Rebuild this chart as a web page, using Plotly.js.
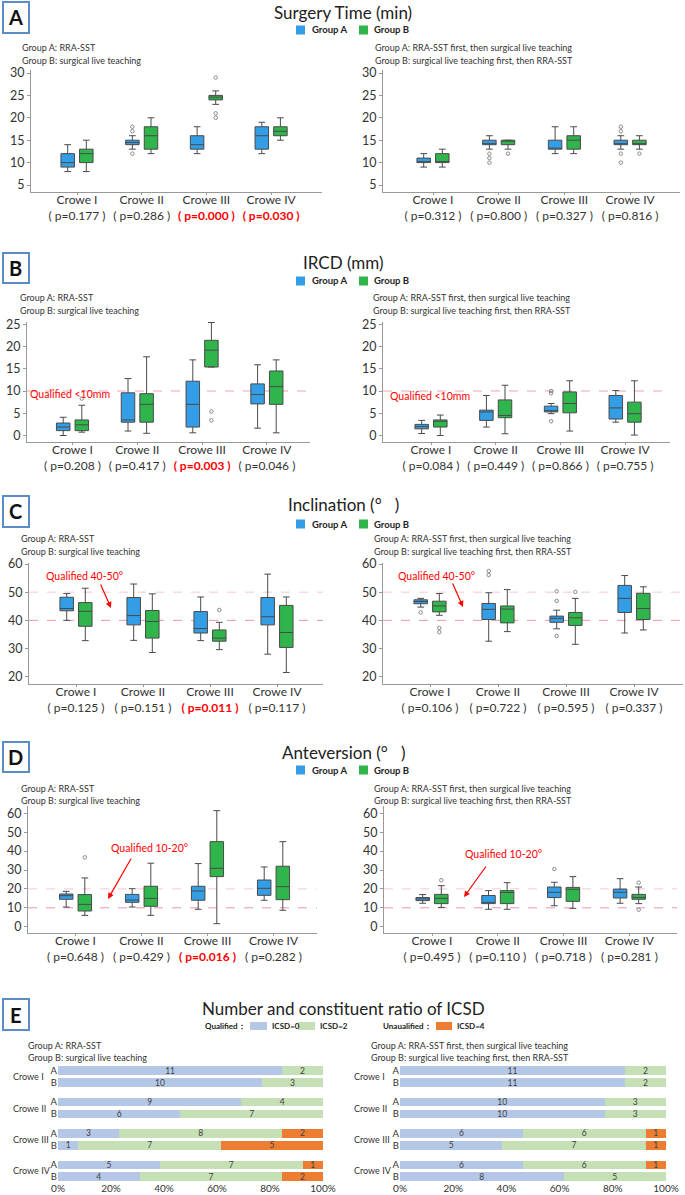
<!DOCTYPE html>
<html><head><meta charset="utf-8">
<script src="https://cdn.plot.ly/plotly-3.0.1.min.js"></script>
<style>html,body{margin:0;padding:0;background:#fff}#chart{width:685px;height:1195px}</style>
</head><body><div id="chart"></div>
<script>
const W=685,H=1195;
const FONT='Lato, "Open Sans", "DejaVu Sans", sans-serif';
const categories=['Crowe I','Crowe II','Crowe III','Crowe IV'];
const groupNames=['Group A','Group B'];
const colorA='#339de6', colorB='#2fb54b';

// each row: [lowerWhisker, q1, median, q3, upperWhisker] per Crowe type; outliers: [categoryIndex, value]
// Surgery Time (min)
const timeL_A=[[8,9,10,12,14],[13,14,14.5,15,16],[12,13,14,16,18],[12,13,16,18,19]];
const timeL_A_out=[[1,17],[1,18],[1,12]];
const timeL_B=[[8,10,12,13,15],[12,13,16,18,20],[23,24,24.6,25,26],[15,16,17,18,20]];
const timeL_B_out=[[2,29],[2,21],[2,20]];
const timeL_p=['0.177','0.286','0.000','0.030'];
const timeL_sig=[0,0,1,1];
const timeR_A=[[9,10,10,11,12],[13,14,14,15,16],[12,13,13,15,18],[13,14,14,15,16]];
const timeR_A_out=[[1,12],[1,11],[1,10],[3,18],[3,17],[3,12],[3,10]];
const timeR_B=[[9,10,10,12,13],[13,14,15,15,15],[12,13,15,16,18],[13,14,14,15,16]];
const timeR_B_out=[[1,12],[3,12]];
const timeR_p=['0.312','0.800','0.327','0.816'];
const timeR_sig=[0,0,0,0];
// IRCD (mm)
const ircdL_A=[[0,1.1,1.9,2.8,4.1],[1.0,3.0,3.5,9.6,12.8],[0.6,1.9,7.0,12.2,17],[1.65,7.1,9.2,11.6,15.9]];
const ircdL_A_out=[];
const ircdL_B=[[0.75,1.1,2.4,3.5,6.8],[0.5,3.0,7.0,9.4,17.7],[15.4,15.4,19.2,21.4,25.4],[0.6,7,11,14.5,17]];
const ircdL_B_out=[[0,8.3],[2,5.4],[2,3.4]];
const ircdL_p=['0.208','0.417','0.003','0.046'];
const ircdL_sig=[0,0,1,0];
const ircdR_A=[[0.45,1.5,2.0,2.5,3.4],[1.9,3.4,5.3,5.7,9.0],[4.9,5.3,5.6,6.6,7.2],[3.0,3.7,6.2,9.0,10.1]];
const ircdR_A_out=[[2,10],[2,9.5],[2,3.2]];
const ircdR_B=[[0,1.9,3.2,3.5,4.6],[0.4,4.0,4.5,8.0,11.3],[1.0,5.1,7.2,9.8,12.3],[0.1,3.0,4.9,7.5,12.3]];
const ircdR_B_out=[];
const ircdR_p=['0.084','0.449','0.866','0.755'];
const ircdR_sig=[0,0,0,0];
// Inclination
const inclL_A=[[40,43.4,44.2,48.2,49.5],[32.9,38.4,41.7,48.1,52.9],[32.8,35.5,37.1,43.1,48.3],[28,38.4,41.3,48.1,56.4]];
const inclL_A_out=[];
const inclL_B=[[32.8,37.9,43.2,46.3,51.4],[28.6,33.7,39.6,43.5,49.4],[29.6,32.6,33.7,36.6,39.3],[21.5,30.4,35.7,45.3,48.3]];
const inclL_B_out=[[2,43.7]];
const inclL_p=['0.125','0.151','0.011','0.117'];
const inclL_sig=[0,0,1,0];
const inclR_A=[[44.7,45.9,46.7,47.3,47.8],[32.6,40.3,43.9,46.0,49.8],[37.0,39.3,40.7,41.5,43.6],[35.5,42.8,47.8,52.4,55.9]];
const inclR_A_out=[[0,42.8],[1,57.5],[1,56.1],[2,50.3],[2,46.9],[2,34.5]];
const inclR_B=[[41.8,43.0,45.1,46.8,49.5],[36.0,39.1,44.0,45.1,50.9],[31.5,38.2,40.9,42.8,47.8],[36.6,40.3,44.2,49.6,51.9]];
const inclR_B_out=[[0,37.3],[0,35.8],[2,50.1]];
const inclR_p=['0.106','0.722','0.595','0.337'];
const inclR_sig=[0,0,0,0];
// Anteversion
const antL_A=[[10.4,14.5,16.4,17.3,18.7],[10.4,12.9,14.1,17.1,20.1],[9.2,14.0,18.9,21.4,33.4],[14.0,16.6,20.3,24.7,31.6]];
const antL_A_out=[];
const antL_B=[[6.0,8.3,11.8,17.0,25.8],[6.0,10.8,15.0,21.4,33.6],[1.6,26.5,30.9,45.0,61.4],[8.7,14.3,21.2,32.0,45.0]];
const antL_B_out=[[0,36.7]];
const antL_p=['0.648','0.429','0.016','0.282'];
const antL_sig=[0,0,1,0];
const antR_A=[[12.4,13.8,14.7,15.4,17.0],[9.2,12.2,12.9,16.5,19.1],[11.1,15.4,18.2,21.0,23.5],[12.4,15.2,18.2,19.9,25.4]];
const antR_A_out=[[2,30.5]];
const antR_B=[[10.2,12.2,15.0,17.1,21.7],[9.2,12.2,18.1,19.1,23.3],[9.7,13.4,19.8,20.8,26.5],[12.2,14.5,15.5,17.1,21.0]];
const antR_B_out=[[0,24.6],[3,23.3],[3,9.0]];
const antR_p=['0.495','0.110','0.718','0.281'];
const antR_sig=[0,0,0,0];
// ICSD counts (rows: Crowe I A, Crowe I B, Crowe II A, ...)
const icsdRowLabels=['A','B','A','B','A','B','A','B'];
const icsdL_0=[11,10,9,6,3,1,5,4];
const icsdL_2=[2,3,4,7,8,7,7,7];
const icsdL_4=[0,0,0,0,2,5,1,2];
const icsdR_0=[11,11,10,10,6,5,6,8];
const icsdR_2=[2,2,3,3,6,7,6,5];
const icsdR_4=[0,0,0,0,1,1,1,0];
const icsdNames=['ICSD=0','ICSD=2','ICSD=4'];
const icsdColors=['#b4c7e7','#c5e0b4','#ed7d31'];
const pctTicks=[0,20,40,60,80,100];

const subLeft=['Group A: RRA-SST','Group B: surgical live teaching'];
const subRight=['Group A: RRA-SST first, then surgical live teaching','Group B: surgical live teaching first, then RRA-SST'];

const traces=[];
const layout={width:W,height:H,margin:{l:0,r:0,t:0,b:0},paper_bgcolor:'#fff',plot_bgcolor:'rgba(0,0,0,0)',
  font:{family:FONT,size:12,color:'#333'},showlegend:false,barmode:'stack',barnorm:'percent',
  uniformtext:{mode:'show',minsize:8},shapes:[],annotations:[]};
const px=x=>x/W, py=y=>1-y/H;
function ax(k){return k===1?'':String(k);}
function ann(text,x,y,o){layout.annotations.push(Object.assign({xref:'paper',yref:'paper',x:px(x),y:py(y),text:text,showarrow:false,xanchor:'left',yanchor:'middle',font:{family:FONT,size:9,color:'#333'}},o||{}));}
function rect(x0,y0,x1,y1,fill,line){layout.shapes.push({type:'rect',xref:'paper',yref:'paper',x0:px(x0),x1:px(x1),y0:py(y1),y1:py(y0),fillcolor:fill,line:line||{width:0},layer:'above'});}

function boxPanel(g){
  const k=g.k, xs=ax(k);
  const off=9.3/g.s, bw=13.5/g.s;
  const u=(g.cal[3]-g.cal[1])/(g.cal[0]-g.cal[2]);
  const yr=[g.cal[2]-(g.bot-g.cal[3])/u, g.cal[0]+(g.cal[1]-g.top)/u];
  const ticktext=categories.map((c,i)=>c+'<br>'+(g.sig[i]?'<b><span style="color:#ff0000">( p='+g.p[i]+' )</span></b>':'( p='+g.p[i]+' )'));
  layout['xaxis'+xs]={domain:[px(g.ax0),px(g.ax1)],range:[(g.ax0-g.c0)/g.s,(g.ax1-g.c0)/g.s],anchor:'y'+xs,
    tickvals:[0,1,2,3],ticktext:ticktext,showline:true,linecolor:'#999',ticks:'outside',ticklen:2,tickcolor:'#999',
    ticklabelstandoff:-5,showgrid:false,zeroline:false,tickfont:{size:12,color:'#333'},fixedrange:true};
  layout['yaxis'+xs]={domain:[py(g.bot),py(g.top)],range:yr,anchor:'x'+xs,dtick:g.dtick,showline:true,linecolor:'#999',
    ticks:'outside',ticklen:3,tickcolor:'#999',showgrid:false,zeroline:false,tickfont:{size:12.5,color:'#333'},fixedrange:true};
  [[g.A,g.Aout,-off,colorA],[g.B,g.Bout,off,colorB]].forEach(([d,o,dx,col],gi)=>{
    traces.push({type:'box',name:groupNames[gi],xaxis:'x'+xs,yaxis:'y'+xs,x:d.map((_,i)=>i+dx),
      lowerfence:d.map(r=>r[0]),q1:d.map(r=>r[1]),median:d.map(r=>r[2]),q3:d.map(r=>r[3]),upperfence:d.map(r=>r[4]),
      width:bw,fillcolor:col,line:{color:'#4a4a4a',width:1},whiskerwidth:0.5,boxpoints:false,hoverinfo:'skip'});
    if(o.length) traces.push({type:'scatter',mode:'markers',xaxis:'x'+xs,yaxis:'y'+xs,x:o.map(p=>p[0]+dx),y:o.map(p=>p[1]),
      marker:{symbol:'circle-open',size:3.5,color:'#8a8a8a',line:{width:1}},hoverinfo:'skip'});
  });
  (g.ref||[]).forEach(r=>layout.shapes.push({type:'line',xref:'x'+xs+' domain',x0:0,x1:1,yref:'y'+xs,y0:r.y,y1:r.y,
    line:{color:r.c,width:1,dash:'dash'},layer:'below'}));
}

const refB=[{y:10,c:'#f0a3b1'}];
const refC=[{y:50,c:'#f5c8d0'},{y:40,c:'#ec94a6'}];
const refD=[{y:20,c:'#f5c8d0'},{y:10,c:'#ec94a6'}];
boxPanel({k:1,A:timeL_A,Aout:timeL_A_out,B:timeL_B,Bout:timeL_B_out,p:timeL_p,sig:timeL_sig,ax0:31,c0:77,s:64.7,ax1:322,top:70,bot:192,cal:[30,73,5,185],dtick:5});
boxPanel({k:2,A:timeR_A,Aout:timeR_A_out,B:timeR_B,Bout:timeR_B_out,p:timeR_p,sig:timeR_sig,ax0:383,c0:433,s:65.7,ax1:680,top:70,bot:192,cal:[30,73,5,185],dtick:5});
boxPanel({k:3,A:ircdL_A,Aout:ircdL_A_out,B:ircdL_B,Bout:ircdL_B_out,p:ircdL_p,sig:ircdL_sig,ax0:27,c0:72.5,s:64.8,ax1:310,top:321.5,bot:441.7,cal:[25,324.3,0,435.5],dtick:5,ref:refB});
boxPanel({k:4,A:ircdR_A,Aout:ircdR_A_out,B:ircdR_B,Bout:ircdR_B_out,p:ircdR_p,sig:ircdR_sig,ax0:383,c0:431,s:64.7,ax1:670,top:321.5,bot:441.7,cal:[25,324.3,0,435.5],dtick:5,ref:refB});
boxPanel({k:5,A:inclL_A,Aout:inclL_A_out,B:inclL_B,Bout:inclL_B_out,p:inclL_p,sig:inclL_sig,ax0:29,c0:76,s:67,ax1:323,top:563,bot:684,cal:[60,564,20,676.7],dtick:10,ref:refC});
boxPanel({k:6,A:inclR_A,Aout:inclR_A_out,B:inclR_B,Bout:inclR_B_out,p:inclR_p,sig:inclR_sig,ax0:383,c0:430,s:68,ax1:683,top:563,bot:684,cal:[60,564,20,676.7],dtick:10,ref:refC});
boxPanel({k:7,A:antL_A,Aout:antL_A_out,B:antL_B,Bout:antL_B_out,p:antL_p,sig:antL_sig,ax0:28,c0:75.5,s:66,ax1:317,top:806,bot:932.7,cal:[60,813.3,0,926.7],dtick:10,ref:refD});
boxPanel({k:8,A:antR_A,Aout:antR_A_out,B:antR_B,Bout:antR_B_out,p:antR_p,sig:antR_sig,ax0:384,c0:432,s:65.8,ax1:677,top:806,bot:932.7,cal:[60,813.3,0,926.7],dtick:10,ref:refD});

// ICSD bars
const groupGap=2.65;
const rowPos=icsdRowLabels.map((_,i)=>Math.floor(i/2)*groupGap+(i%2));
const eTop=1063.6, eUnit=11.84, eY0=-0.6, eY1=rowPos[rowPos.length-1]+0.4;
const eBot=eTop+(eY1-eY0)*eUnit;
function barPanel(k,x0,x1,counts,crx){
  const xs=ax(k);
  layout['xaxis'+xs]={domain:[px(x0),px(x1)],range:[0,100],anchor:'y'+xs,tickvals:pctTicks,ticktext:pctTicks.map(v=>v+'%'),
    showline:false,showgrid:false,zeroline:false,ticks:'',tickfont:{size:10,color:'#333'},fixedrange:true};
  layout['yaxis'+xs]={domain:[py(eBot),py(eTop)],range:[eY1,eY0],anchor:'x'+xs,tickvals:rowPos,ticktext:icsdRowLabels,
    showline:false,showgrid:false,zeroline:false,ticks:'',tickfont:{size:9.5,color:'#333'},fixedrange:true};
  counts.forEach((c,j)=>traces.push({type:'bar',orientation:'h',name:icsdNames[j],xaxis:'x'+xs,yaxis:'y'+xs,x:c,y:rowPos,width:0.72,
    marker:{color:icsdColors[j],line:{width:0}},text:c.map(v=>v?String(v):''),textposition:'inside',insidetextanchor:'middle',
    textangle:0,textfont:{size:8.5,color:'#404040',family:FONT},hoverinfo:'skip'}));
  categories.forEach((c,g)=>{const mid=(rowPos[2*g]+rowPos[2*g+1])/2;
    ann(c,crx,eTop+(mid-eY0)*eUnit,{font:{family:FONT,size:9,color:'#333'}});});
}
barPanel(9,58,323,[icsdL_0,icsdL_2,icsdL_4],11);
barPanel(10,400,666,[icsdR_0,icsdR_2,icsdR_4],352);

// Panel letters, titles, legends, subtitles
const letters=[['A',2,33],['B',253,283],['C',496,527],['D',742,772],['E',999,1030]];
letters.forEach(([L,y0,y1])=>{rect(3,y0,29,y1,'#fff',{color:'#5b8bc9',width:2});
  ann('<b>'+L+'</b>',16,(y0+y1)/2,{xanchor:'center',font:{family:FONT,size:20,color:'#111'}});});
const titles=[['Surgery Time (min)',12],['IRCD (mm)',262],['Inclination (°   )',505],['Anteversion (°   )',752],['Number and constituent ratio of ICSD',1008]];
titles.forEach(([t,y])=>ann(t,343,y,{xanchor:'center',font:{family:FONT,size:17,color:'#222'}}));
[30,281,524,770].forEach(y=>{
  rect(296,y-4.5,305,y+4.5,colorA); ann('<b>Group A</b>',310,y,{font:{family:FONT,size:9.5,color:'#222'}});
  rect(359,y-4.5,368,y+4.5,colorB); ann('<b>Group B</b>',372,y,{font:{family:FONT,size:9.5,color:'#222'}});
});
// ICSD legend
const legF={family:FONT,size:8,color:'#222'};
ann('<b>Qualified：</b>',248,1026,{xanchor:'right',font:legF});
rect(250,1022,267,1030,icsdColors[0]); ann('<b>'+icsdNames[0]+'</b>',270,1026,{font:legF});
rect(298,1022,315,1030,icsdColors[1]); ann('<b>'+icsdNames[1]+'</b>',318,1026,{font:legF});
ann('<b>Unaualified：</b>',434,1026,{xanchor:'right',font:legF});
rect(436,1022,452,1030,icsdColors[2]); ann('<b>'+icsdNames[2]+'</b>',455,1026,{font:legF});
// subtitles
[[48,20,373],[298,18,371],[539,19,372],[788,19,372],[1045,26,369]].forEach(([y,xl,xr])=>{
  ann(subLeft[0],xl,y); ann(subLeft[1],xl,y+12);
  ann(subRight[0],xr,y); ann(subRight[1],xr,y+12);
});
// Qualified notes
const red='#ff0000';
ann('Qualified &lt;10mm',28,394,{font:{family:FONT,size:10.5,color:red}});
ann('Qualified &lt;10mm',388,396,{font:{family:FONT,size:10.5,color:red}});
ann('Qualified 40-50°',84,576,{xanchor:'center',font:{family:FONT,size:10.5,color:red}});
ann('Qualified 40-50°',436,576,{xanchor:'center',font:{family:FONT,size:10.5,color:red}});
ann('Qualified 10-20°',149,848,{xanchor:'center',font:{family:FONT,size:10.5,color:red}});
ann('Qualified 10-20°',504,854,{xanchor:'center',font:{family:FONT,size:10.5,color:red}});
function arrow(hx,hy,tx,ty){layout.annotations.push({xref:'paper',yref:'paper',x:px(hx),y:py(hy),ax:tx-hx,ay:ty-hy,text:'',
  showarrow:true,arrowhead:2,arrowsize:1,arrowwidth:1.2,arrowcolor:red});}
arrow(111,608,100,583); arrow(463,607,452,582); arrow(108,899,132,857); arrow(464,897,487,865);

Plotly.newPlot('chart',traces,layout,{staticPlot:true,displayModeBar:false});
</script></body></html>
